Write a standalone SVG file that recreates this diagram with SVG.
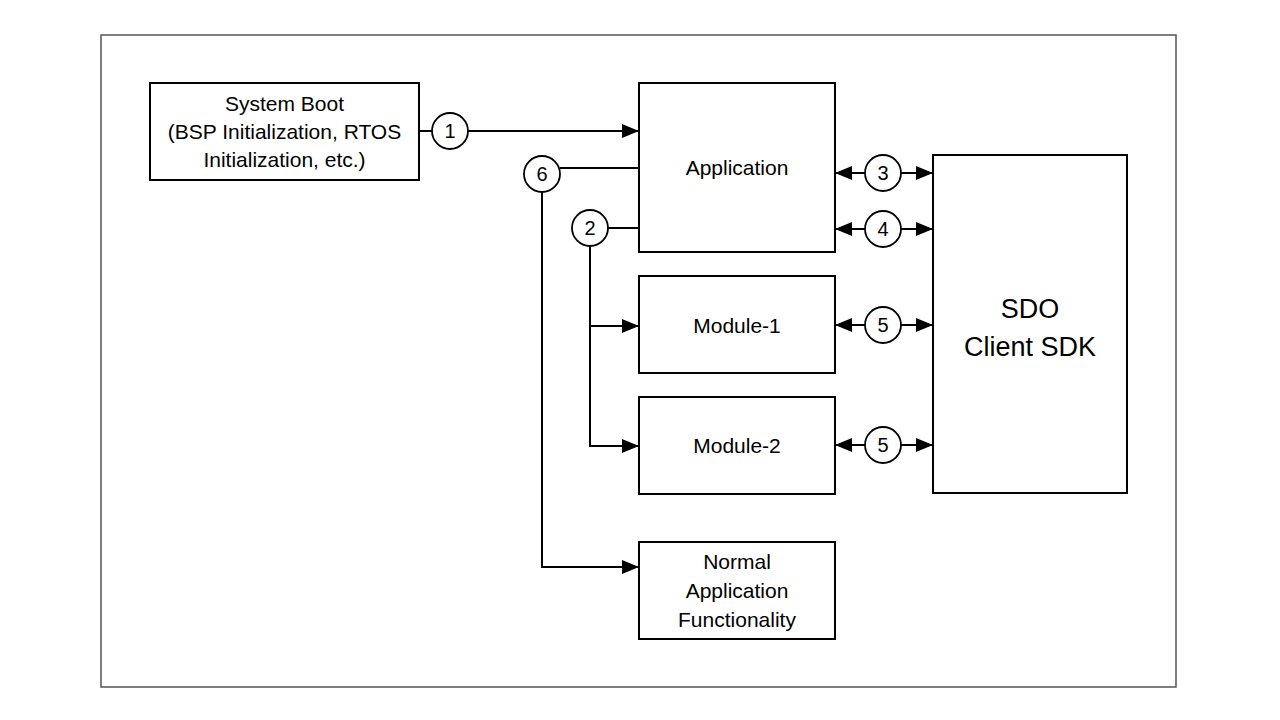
<svg xmlns="http://www.w3.org/2000/svg" width="1280" height="720" viewBox="0 0 1280 720">
<style>
.box{fill:#fff;stroke:#000;stroke-width:2}
.ln{fill:none;stroke:#000;stroke-width:2}
.cir{fill:#fff;stroke:#000;stroke-width:1.8}
.t{font-family:"Liberation Sans",Arial,sans-serif;font-size:21px;fill:#000;text-anchor:middle}
.n{font-family:"Liberation Sans",Arial,sans-serif;font-size:20px;fill:#000;text-anchor:middle}
.big{font-family:"Liberation Sans",Arial,sans-serif;font-size:27px;fill:#000;text-anchor:middle}
</style>
<defs>
<marker id="ah" markerUnits="userSpaceOnUse" markerWidth="18" markerHeight="14" refX="17" refY="7" orient="auto-start-reverse">
<path d="M0,0 L17,7 L0,14 Z" fill="#000"/>
</marker>
</defs>
<rect width="1280" height="720" fill="#fff"/>
<rect x="101" y="35" width="1075" height="652" fill="none" stroke="#555" stroke-width="1.5"/>

<g id="connectors">
<path class="ln" d="M419,131 H432"/>
<path class="ln" d="M468,131 H639" marker-end="url(#ah)"/>
<path class="ln" d="M560,168 H639"/>
<path class="ln" d="M608,228 H639"/>
<path class="ln" d="M542,192 V567 H639" marker-end="url(#ah)"/>
<path class="ln" d="M590,246 V446 H639" marker-end="url(#ah)"/>
<path class="ln" d="M590,326 H639" marker-end="url(#ah)"/>
<path class="ln" d="M865,173 H835" marker-end="url(#ah)"/>
<path class="ln" d="M901,173 H933" marker-end="url(#ah)"/>
<path class="ln" d="M865,229 H835" marker-end="url(#ah)"/>
<path class="ln" d="M901,229 H933" marker-end="url(#ah)"/>
<path class="ln" d="M865,325 H835" marker-end="url(#ah)"/>
<path class="ln" d="M901,325 H933" marker-end="url(#ah)"/>
<path class="ln" d="M865,445 H835" marker-end="url(#ah)"/>
<path class="ln" d="M901,445 H933" marker-end="url(#ah)"/>
</g>

<g id="step1"><circle class="cir" cx="450" cy="131" r="18"/><text class="n" x="450" y="138">1</text></g>
<g id="step6"><circle class="cir" cx="542" cy="174" r="18"/><text class="n" x="542" y="181">6</text></g>
<g id="step2"><circle class="cir" cx="590" cy="228" r="18"/><text class="n" x="590" y="235">2</text></g>
<g id="step3"><circle class="cir" cx="883" cy="173" r="18"/><text class="n" x="883" y="180">3</text></g>
<g id="step4"><circle class="cir" cx="883" cy="229" r="18"/><text class="n" x="883" y="236">4</text></g>
<g id="step5a"><circle class="cir" cx="883" cy="325" r="18"/><text class="n" x="883" y="332">5</text></g>
<g id="step5b"><circle class="cir" cx="883" cy="445" r="18"/><text class="n" x="883" y="452">5</text></g>

<g id="system-boot">
<rect class="box" x="150" y="83" width="269" height="97"/>
<text class="t" x="284.5" y="111">System Boot</text>
<text class="t" x="284.5" y="139">(BSP Initialization, RTOS</text>
<text class="t" x="284.5" y="167">Initialization, etc.)</text>
</g>
<g id="application">
<rect class="box" x="639" y="83" width="196" height="169"/>
<text class="t" x="737" y="175">Application</text>
</g>
<g id="module-1">
<rect class="box" x="639" y="276" width="196" height="97"/>
<text class="t" x="737" y="333">Module-1</text>
</g>
<g id="module-2">
<rect class="box" x="639" y="397" width="196" height="97"/>
<text class="t" x="737" y="453">Module-2</text>
</g>
<g id="normal-app">
<rect class="box" x="639" y="542" width="196" height="97"/>
<text class="t" x="737" y="569">Normal</text>
<text class="t" x="737" y="598">Application</text>
<text class="t" x="737" y="627">Functionality</text>
</g>
<g id="sdo-client-sdk">
<rect class="box" x="933" y="155" width="194" height="338"/>
<text class="big" x="1030" y="318">SDO</text>
<text class="big" x="1030" y="356">Client SDK</text>
</g>
</svg>
